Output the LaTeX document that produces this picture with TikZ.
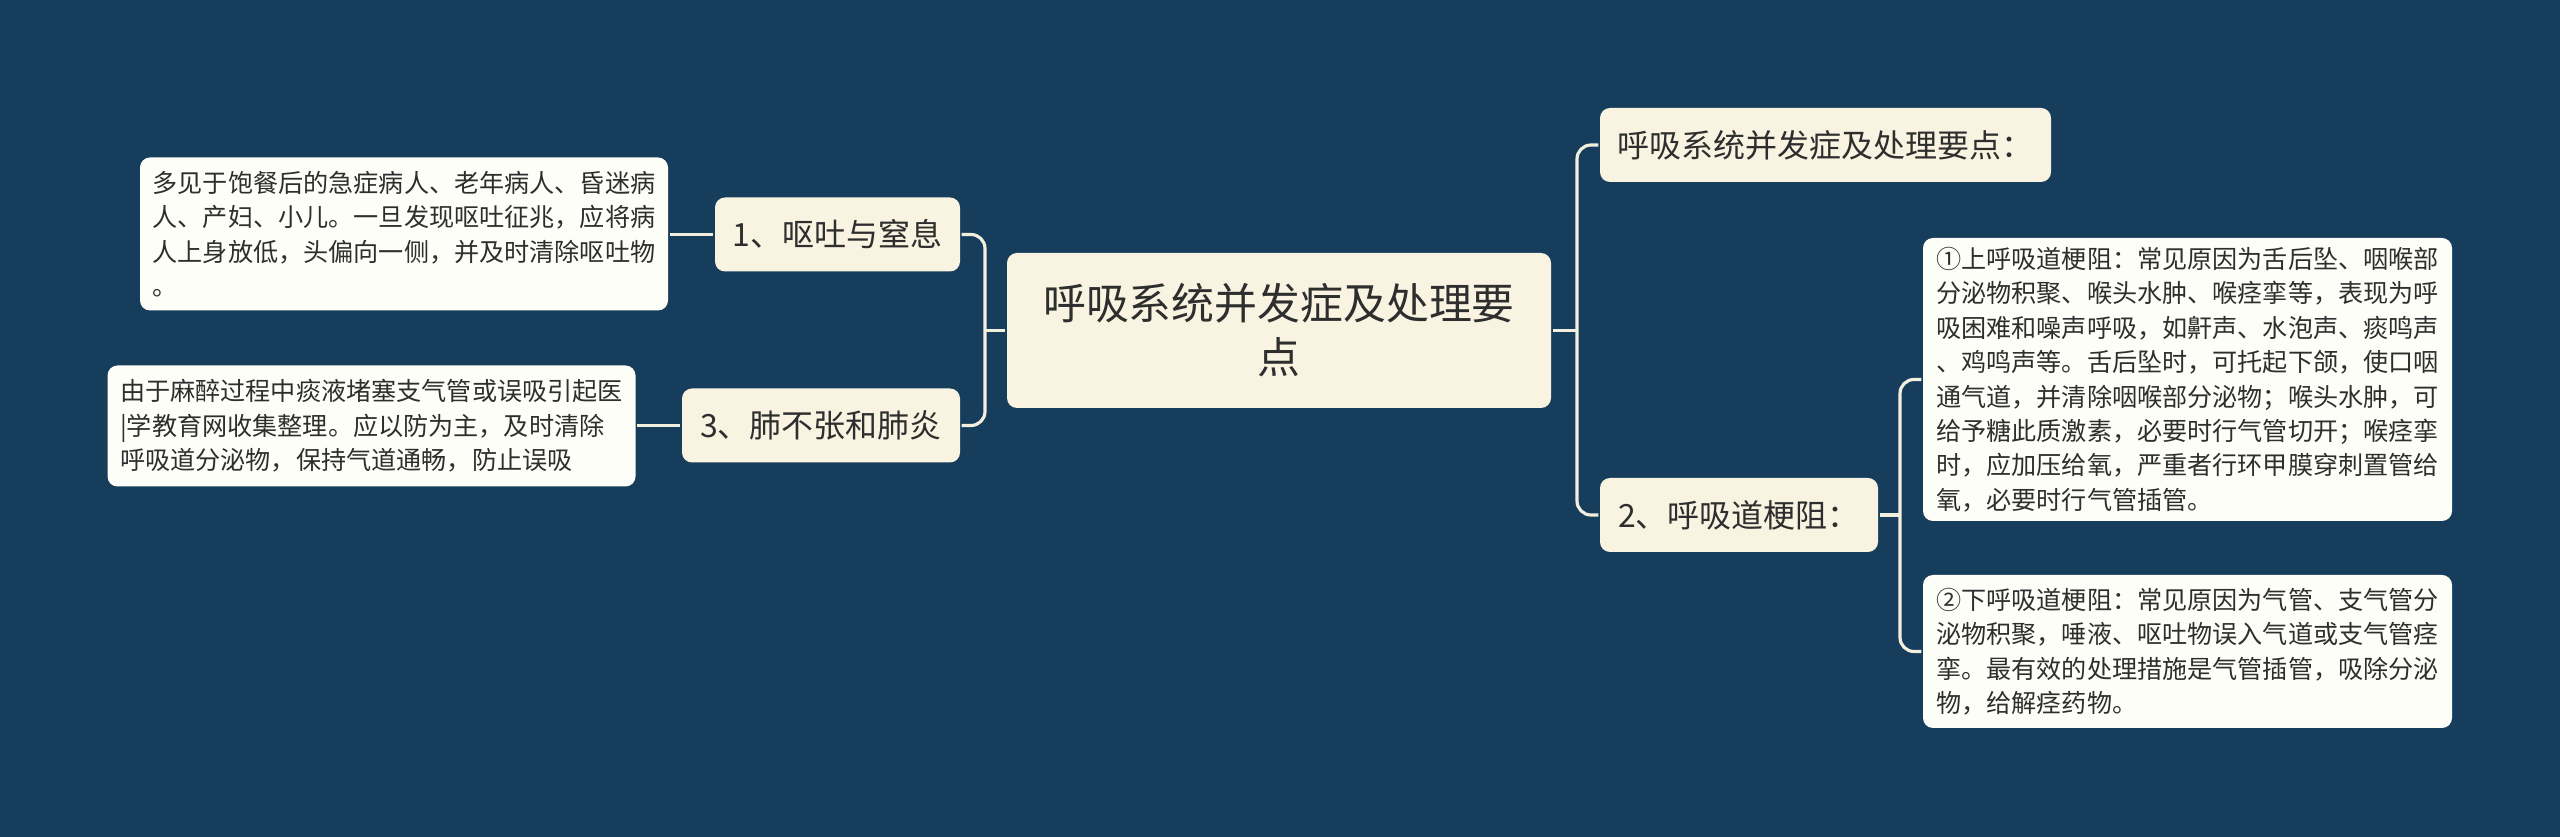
\documentclass[tikz,border=0pt]{standalone}
\usepackage{fontspec}
\setmainfont{Noto Sans CJK SC}
\definecolor{bgblue}{HTML}{173D5C}
\definecolor{topicfill}{HTML}{F9F4E1}
\definecolor{leaffill}{HTML}{FEFEF9}
\definecolor{ink}{HTML}{2E2E2E}
\definecolor{linkcream}{HTML}{F2EFDF}

\begin{document}
\begin{tikzpicture}[line width=0.9pt]
\tikzset{
  root/.style={fill=topicfill,rounded corners=0.1cm,text=ink,align=center,
    inner sep=0pt,font=\fontsize{12.2}{15.4}\selectfont},
  topic/.style={fill=topicfill,rounded corners=0.1cm,text=ink,inner sep=0pt,
    minimum height=0.74cm,font=\fontsize{9.1}{11}\selectfont},
  leaf/.style={fill=leaffill,rounded corners=0.1cm,text=ink,align=left,
    inner sep=0pt,minimum width=5.28cm,font=\fontsize{7.15}{9.8}\selectfont},
  link/.style={draw=linkcream,line width=0.9pt}}
% background and page size
\fill[bgblue] (0,0) rectangle (25.6,8.37);
\useasboundingbox (0,0) rectangle (25.6,8.37);
% ---------- centre ----------
\node[root,minimum width=5.44cm,minimum height=1.55cm] (root) at (12.79,5.065)
  {呼吸系统并发症及处理要\\点};
% ---------- left branch ----------
\node[topic,minimum width=2.45cm] (vomit) at (8.375,6.025) {1、呕吐与窒息};
\node[topic,minimum width=2.78cm] (lung) at (8.21,4.115) {3、肺不张和肺炎};
\node[leaf,minimum height=1.53cm] (vomitnote) at (4.04,6.03)
  {多见于饱餐后的急症病人、老年病人、昏迷病\\
   人、产妇、小儿。一旦发现呕吐征兆，应将病\\
   人上身放低，头偏向一侧，并及时清除呕吐物\\
   。};
\node[leaf,minimum height=1.21cm] (lungnote) at (3.715,4.11)
  {由于麻醉过程中痰液堵塞支气管或误吸引起医\\
   |学教育网收集整理。应以防为主，及时清除\\
   呼吸道分泌物，保持气道通畅，防止误吸};
% ---------- right branch ----------
\node[topic,minimum width=4.51cm] (keys) at (18.255,6.92) {呼吸系统并发症及处理要点：};
\node[topic,minimum width=2.78cm] (airway) at (17.39,3.22) {2、呼吸道梗阻：};
\node[leaf,minimum width=5.29cm,minimum height=2.83cm] (upper) at (21.875,4.575)
  {①上呼吸道梗阻：常见原因为舌后坠、咽喉部\\
   分泌物积聚、喉头水肿、喉痉挛等，表现为呼\\
   吸困难和噪声呼吸，如鼾声、水泡声、痰鸣声\\
   、鸡鸣声等。舌后坠时，可托起下颌，使口咽\\
   通气道，并清除咽喉部分泌物；喉头水肿，可\\
   给予糖此质激素，必要时行气管切开；喉痉挛\\
   时，应加压给氧，严重者行环甲膜穿刺置管给\\
   氧，必要时行气管插管。};
\node[leaf,minimum width=5.29cm,minimum height=1.53cm] (lower) at (21.875,1.855)
  {②下呼吸道梗阻：常见原因为气管、支气管分\\
   泌物积聚，唾液、呕吐物误入气道或支气管痉\\
   挛。最有效的处理措施是气管插管，吸除分泌\\
   物，给解痉药物。};
% ---------- connectors ----------
\coordinate (ltrunk) at (9.85,5.065);
\coordinate (rtrunk) at (15.77,5.065);
\coordinate (atrunk) at (19.00,3.22);
\draw[link] (root.west) -- (ltrunk);
\draw[link,rounded corners=0.14cm] (vomit.east) -| (ltrunk) |- (lung.east);
\draw[link] (root.east) -- (rtrunk);
\draw[link,rounded corners=0.14cm] (keys.west) -| (rtrunk) |- (airway.west);
\draw[link] (airway.east) -- (atrunk);
\draw[link,rounded corners=0.14cm] (upper.west) -| (atrunk) |- (lower.west);
\draw[link] (vomit.west) -- (vomit.west -| vomitnote.east);
\draw[link] (lung.west) -- (lung.west -| lungnote.east);
\end{tikzpicture}
\end{document}
